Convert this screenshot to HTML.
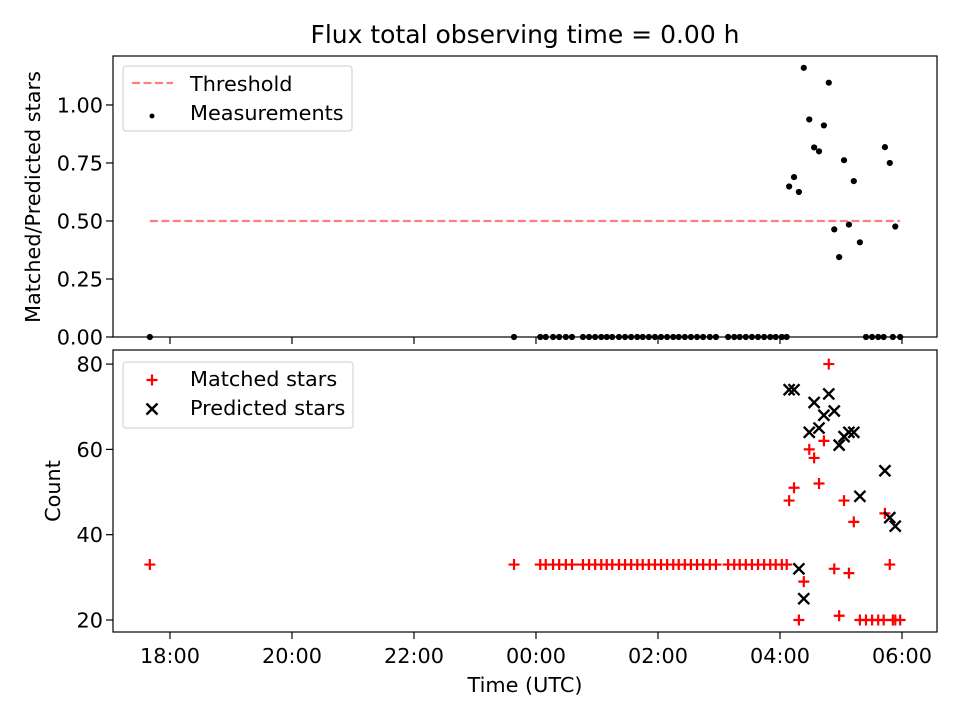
<!DOCTYPE html>
<html><head><meta charset="utf-8">
<style>
html,body{margin:0;padding:0;background:#fff;}
svg text{font-family:"DejaVu Sans","Liberation Sans",sans-serif;fill:#000;}
</style></head>
<body>
<svg id="chart" width="960" height="720" viewBox="0 0 960 720" xmlns="http://www.w3.org/2000/svg">
<rect width="960" height="720" fill="#fff"/>
<text x="525" y="43" font-size="25" text-anchor="middle">Flux total observing time = 0.00 h</text>
<g id="top"></g>
<g id="bot"></g>
<text x="525" y="692" font-size="20.8" text-anchor="middle">Time (UTC)</text>
<text transform="translate(40,197) rotate(-90)" font-size="20.8" text-anchor="middle">Matched/Predicted stars</text>
<text transform="translate(60,491) rotate(-90)" font-size="20.8" text-anchor="middle">Count</text>
</svg>
<script>
// hours relative to 00:00 UTC
const times = [-6.33,-0.36,0.07,0.16,0.28,0.38,0.49,0.59,0.77,0.87,0.97,1.07,1.16,1.25,1.36,1.46,1.56,1.66,1.75,1.85,1.95,2.05,2.15,2.25,2.34,2.44,2.54,2.64,2.74,2.85,2.95,3.15,3.25,3.34,3.44,3.54,3.64,3.74,3.84,3.93,4.03,4.11,
4.15,4.23,4.31,4.39,4.48,4.56,4.64,4.72,4.80,4.89,4.97,5.05,5.13,5.21,5.31,5.41,5.51,5.61,5.70,5.72,5.80,5.85,5.89,5.97];
const matched = [33,33,33,33,33,33,33,33,33,33,33,33,33,33,33,33,33,33,33,33,33,33,33,33,33,33,33,33,33,33,33,33,33,33,33,33,33,33,33,33,33,33,
48,51,20,29,60,58,52,62,80,32,21,48,31,43,20,20,20,20,20,45,33,20,20,20];
const predicted = [null,null,null,null,null,null,null,null,null,null,null,null,null,null,null,null,null,null,null,null,null,null,null,null,null,null,null,null,null,null,null,null,null,null,null,null,null,null,null,null,null,null,
74,74,32,25,64,71,65,68,73,69,61,63,64,64,49,null,null,null,null,55,44,null,42,null];
const threshold = 0.5;
const xTickHours = [-6,-4,-2,0,2,4,6];
const xTickLabels = ["18:00","20:00","22:00","00:00","02:00","04:00","06:00"];
const topTicks = [0,0.25,0.5,0.75,1.0];
const topTickLabels = ["0.00","0.25","0.50","0.75","1.00"];
const botTicks = [20,40,60,80];

const NS="http://www.w3.org/2000/svg";
const L=113,R=937;
const xMin=-6.934,xMax=6.574;
const X=h=>L+(h-xMin)/(xMax-xMin)*(R-L);
const T={top:56,bot:337,min:0,max:1.211};
const B={top:350,bot:632,min:17.19,max:83.3};
const Y=(ax,v)=>ax.bot-(v-ax.min)/(ax.max-ax.min)*(ax.bot-ax.top);
function mk(p,tag,attrs){const e=document.createElementNS(NS,tag);for(const k in attrs)e.setAttribute(k,attrs[k]);p.appendChild(e);return e;}
const gT=document.getElementById('top'),gB=document.getElementById('bot');

const th=mk(gT,'line',{x1:X(times[0]),x2:X(times[times.length-1]),y1:Y(T,threshold),y2:Y(T,threshold),stroke:'#ff7f7f','stroke-width':2.2,'stroke-dasharray':'8,3.5'});


times.forEach((t,i)=>{
  const r=predicted[i]?matched[i]/predicted[i]:0;
  const c=mk(gT,'circle',{cx:X(t),cy:Y(T,r),r:3.1,fill:'#000'});
  
  
});
times.forEach((t,i)=>{
  const x=X(t),y=Y(B,matched[i]),s=5.5;
  const p=mk(gB,'path',{d:`M${x-s},${y}H${x+s}M${x},${y-s}V${y+s}`,stroke:'#f00','stroke-width':2.2,fill:'none'});
  
  
});
times.forEach((t,i)=>{
  if(predicted[i]==null)return;
  const x=X(t),y=Y(B,predicted[i]),s=5.5;
  const p=mk(gB,'path',{d:`M${x-s},${y-s}L${x+s},${y+s}M${x-s},${y+s}L${x+s},${y-s}`,stroke:'#000','stroke-width':2.4,fill:'none'});
  
  
});
[[gT,T,'top-plot-frame'],[gB,B,'bottom-plot-frame']].forEach(([g,ax,n])=>{
  const f=mk(g,'rect',{x:L,y:ax.top,width:R-L,height:ax.bot-ax.top,fill:'none',stroke:'#000','stroke-width':1.2});
  
  
  xTickHours.forEach(h=>mk(g,'line',{x1:X(h),x2:X(h),y1:ax.bot,y2:ax.bot+7,stroke:'#000','stroke-width':1.2}));
});
xTickHours.forEach((h,i)=>{
  const t=mk(gB,'text',{x:X(h),y:663,'font-size':20.8,'text-anchor':'middle'});
  t.textContent=xTickLabels[i];
  
  
});
topTicks.forEach((v,i)=>{
  mk(gT,'line',{x1:L-7,x2:L,y1:Y(T,v),y2:Y(T,v),stroke:'#000','stroke-width':1.2});
  const t=mk(gT,'text',{x:L-10,y:Y(T,v)+7.5,'font-size':20.8,'text-anchor':'end'});
  t.textContent=topTickLabels[i];
  
  
});
botTicks.forEach(v=>{
  mk(gB,'line',{x1:L-7,x2:L,y1:Y(B,v),y2:Y(B,v),stroke:'#000','stroke-width':1.2});
  const t=mk(gB,'text',{x:L-10,y:Y(B,v)+7.5,'font-size':20.8,'text-anchor':'end'});
  t.textContent=String(v);
  
  
});
const lt=mk(gT,'rect',{x:123,y:66,width:229,height:65,rx:3,fill:'#fff','fill-opacity':0.8,stroke:'#ccc'});


mk(gT,'line',{x1:132,x2:173,y1:83,y2:83,stroke:'#ff7f7f','stroke-width':2.2,'stroke-dasharray':'8,3.5'});
let t1=mk(gT,'text',{x:190,y:91,'font-size':20.8});t1.textContent='Threshold';


mk(gT,'circle',{cx:152,cy:116,r:2.5,fill:'#000'});
let t2=mk(gT,'text',{x:190,y:120,'font-size':20.8});t2.textContent='Measurements';



const lb=mk(gB,'rect',{x:123,y:362,width:230,height:66,rx:3,fill:'#fff','fill-opacity':0.8,stroke:'#ccc'});


mk(gB,'path',{d:'M146.5,380H157.5M152,374.5V385.5',stroke:'#f00','stroke-width':2.2});
let t3=mk(gB,'text',{x:190,y:386,'font-size':20.8});t3.textContent='Matched stars';


mk(gB,'path',{d:'M146.5,403.5L157.5,414.5M146.5,414.5L157.5,403.5',stroke:'#000','stroke-width':2.4});
let t4=mk(gB,'text',{x:190,y:415,'font-size':20.8});t4.textContent='Predicted stars';


</script>
</body></html>
